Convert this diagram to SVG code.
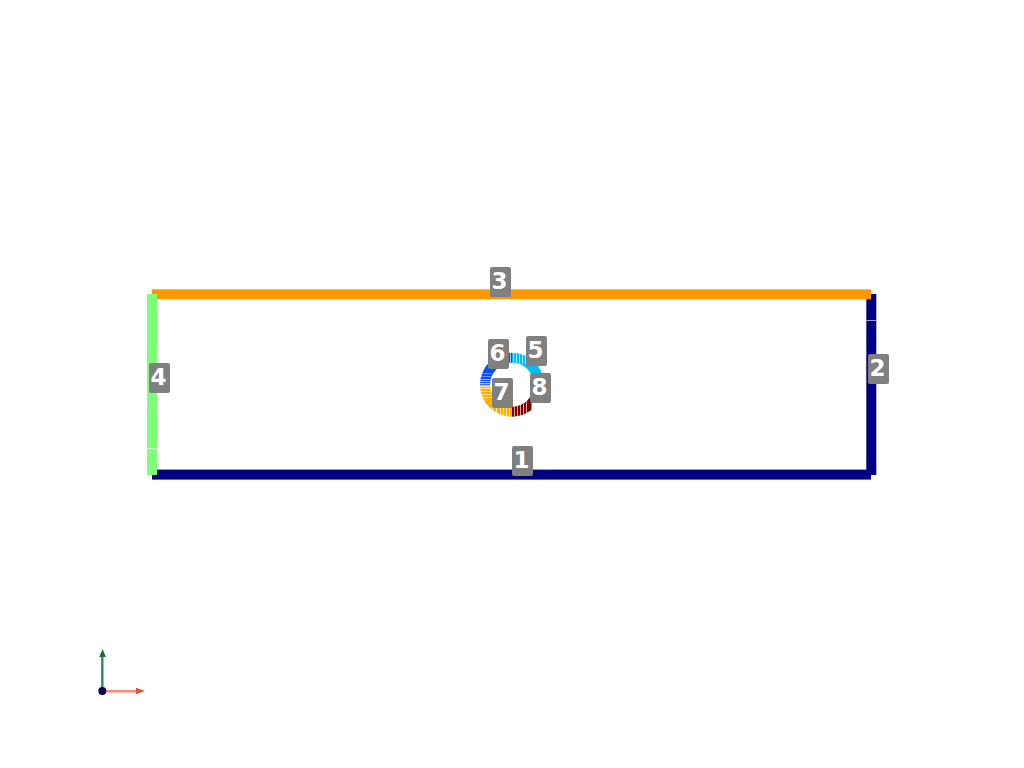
<svg xmlns="http://www.w3.org/2000/svg" width="1024" height="768" viewBox="0 0 1024 768">
<style>
.lbl rect{fill:#808080}
.lbl text{fill:#fff;font-family:"DejaVu Sans",sans-serif;font-weight:700;font-size:23px;text-anchor:middle}
.seam{stroke:#fff;stroke-opacity:.6;stroke-width:1;fill:none}
.w{stroke:#fff;stroke-width:1;stroke-opacity:.65}
.w2{stroke:#fff;stroke-width:1;stroke-opacity:.4}
</style>
<defs>
<clipPath id="ring"><path clip-rule="evenodd" d="M480 384.700a32 32 0 1 0 64 0a32 32 0 1 0 -64 0zM490 384.700a22 22 0 1 1 44 0a22 22 0 1 1 -44 0z"/></clipPath>
</defs>
<rect width="1024" height="768" fill="#fff"/>
<g id="connectors">
<rect id="edge1" x="152" y="469.600" width="719" height="10" fill="#000080"/>
<rect id="edge2" x="866.300" y="294" width="10" height="181" fill="#000080"/>
<line class="seam" x1="866" y1="320.500" x2="876" y2="320.500"/>
<rect id="edge3" x="152" y="289.300" width="719" height="10" fill="#ff9800"/>
<rect id="edge4" x="147" y="294" width="10" height="181" fill="#7dff7a"/>
<line class="seam" x1="147" y1="448.500" x2="157" y2="448.500"/>
<g id="ring-arcs" clip-path="url(#ring)">
<rect id="arc5" x="512" y="350" width="34" height="35" fill="#00bfff"/>
<rect id="arc6" x="478" y="350" width="34" height="35" fill="#0050ff"/>
<rect id="arc7" x="478" y="384.700" width="34" height="34" fill="#ffb000"/>
<rect id="arc8" x="512" y="384.700" width="19.500" height="34" fill="#800000"/>
<path class="w" d="M510.500 352V364M513.500 352V364M516.500 352V364M519.500 352V364M522.500 352V364M525.500 352V364"/>
<path class="w2" d="M507.500 352V364M504.500 352V364"/>
<path class="w" d="M480 379.500H492M480 381.500H492M480 383.500H492M480 386.500H492M480 388.500H492M480 391.500H492M480 394.500H492M480 397.500H492"/>
<path class="w2" d="M480 376.500H492M480 373.500H492"/>
<path class="w" d="M492.500 404V418M496.500 404V418M500.500 404V418M503.500 404V418M506.500 404V418M509.500 404V418"/>
<path class="w" d="M514.500 404V418M517.500 396V418M520.500 396V418M523.500 396V418M526.500 396V418"/>
</g>
</g>
<g id="axes">
<line x1="102.300" y1="691" x2="102.300" y2="655" stroke="#2e8b57" stroke-width="2.400"/>
<polygon points="102.500,649 106,657 99.300,657" fill="#1f6b3f"/>
<line x1="102" y1="691.200" x2="138" y2="691.200" stroke="#ff8a75" stroke-width="2.600"/>
<polygon points="145,691 136,687.800 136,694.200" fill="#e0553f"/>
<circle cx="102.300" cy="691" r="4" fill="#000050"/>
</g>
<g id="node1" class="lbl"><rect x="512" y="446" width="21" height="30" rx="2"/><text x="521.500" y="468">1</text></g>
<g id="node2" class="lbl"><rect x="868" y="354" width="21" height="30" rx="2"/><text x="877.500" y="376">2</text></g>
<g id="node3" class="lbl"><rect x="490" y="267" width="21" height="30" rx="2"/><text x="499.500" y="289">3</text></g>
<g id="node4" class="lbl"><rect x="149" y="363" width="21" height="30" rx="2"/><text x="158.500" y="385">4</text></g>
<g id="node5" class="lbl"><rect x="526" y="336" width="21" height="30" rx="2"/><text x="535.500" y="358">5</text></g>
<g id="node6" class="lbl"><rect x="488" y="339" width="21" height="30" rx="2"/><text x="497.500" y="361">6</text></g>
<g id="node7" class="lbl"><rect x="492" y="378" width="21" height="30" rx="2"/><text x="501.500" y="400">7</text></g>
<g id="node8" class="lbl"><rect x="530" y="373" width="21" height="30" rx="2"/><text x="539.500" y="395">8</text></g>
</svg>
